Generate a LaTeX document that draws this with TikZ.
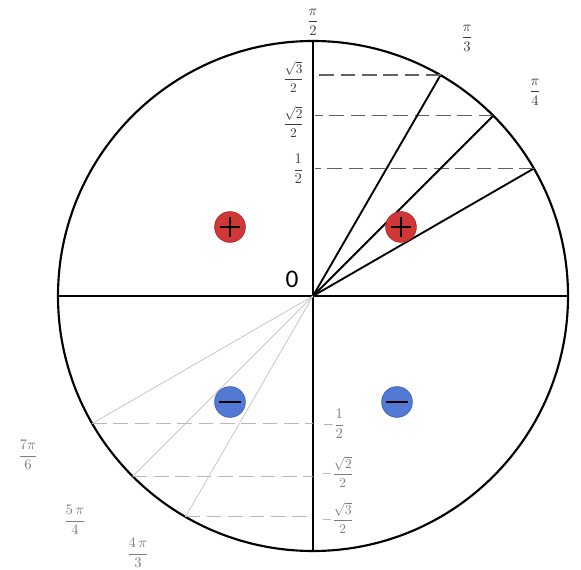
\documentclass[tikz,border=0pt]{standalone}
\usepackage{amsmath,amssymb}
\usepackage{fontspec}
\newfontfamily\zerofont{Carlito}
\usepackage{tikz}
\usetikzlibrary{calc}
\definecolor{signred}{RGB}{208,56,56}
\definecolor{signredline}{RGB}{180,40,40}
\definecolor{signblue}{RGB}{82,122,212}
\definecolor{signblueline}{RGB}{62,98,184}
\definecolor{labeldark}{RGB}{60,60,60}
\definecolor{labellight}{RGB}{125,125,125}

\begin{document}
\begin{tikzpicture}[
      x=0.75pt, y=0.75pt,
      rim/.style={line width=1.6pt, black},
      ray/.style={line width=1.4pt, black},
      faintray/.style={line width=0.6pt, black!22},
      level/.style={line width=1pt, black!62, dash pattern=on 11pt off 5pt},
      faintlevel/.style={line width=0.7pt, black!28, dash pattern=on 11pt off 5pt},
      toplabel/.style={font=\fontsize{11}{13}\selectfont, text=labeldark, inner sep=1pt},
      lowlabel/.style={font=\fontsize{11}{13}\selectfont, text=labellight, inner sep=1pt},
      rootlabel/.style={font=\fontsize{10}{12}\selectfont, inner sep=0.5pt},
      plussign/.style={circle, fill=signred, draw=signredline, line width=0.6pt,
                       minimum size=23pt, inner sep=0pt},
      minussign/.style={circle, fill=signblue, draw=signblueline, line width=0.6pt,
                        minimum size=23pt, inner sep=0pt},
    ]
      \useasboundingbox (-313,-274) rectangle (268,296);
      \def\rad{255}
      % circle and axes
      \coordinate (O) at (0,0);
      \coordinate (E) at (0:\rad);
      \coordinate (N) at (90:\rad);
      \coordinate (W) at (180:\rad);
      \coordinate (S) at (270:\rad);
      \draw[rim] (O) circle (\rad);
      \draw[rim] (W) -- (E);
      \draw[rim] (S) -- (N);
      % first quadrant
      \foreach \ang/\nm in {30/a, 45/b, 60/c} {
        \coordinate (\nm) at (\ang:\rad);
        \draw[ray] (O) -- (\nm);
        \draw[level] (\nm) -- (2,0 |- \nm);
      }
      % third quadrant
      \foreach \ang/\nm in {210/d, 225/e, 240/f} {
        \coordinate (\nm) at (\ang:\rad);
        \draw[faintray] (O) -- (\nm);
        \draw[faintlevel] (\nm) -- (O |- \nm);
      }
      % labels
      \node[toplabel] (lpi2) at (0,274) {$\displaystyle\frac{\pi}{2}$};
      \node[toplabel] (lpi3) at (154,258) {$\displaystyle\frac{\pi}{3}$};
      \node[toplabel] (lpi4) at (222,204) {$\displaystyle\frac{\pi}{4}$};
      \node[toplabel, rootlabel, anchor=east] (lsin3) at (-8,219) {$\displaystyle\frac{\sqrt{3}}{2}$};
      \node[toplabel, rootlabel, anchor=east] (lsin2) at (-8,174) {$\displaystyle\frac{\sqrt{2}}{2}$};
      \node[toplabel, anchor=east] (lsin1) at (-8,127) {$\displaystyle\frac{1}{2}$};
      \node[lowlabel, anchor=west] (lmsin1) at (8,-128) {$-\displaystyle\frac{1}{2}$};
      \node[lowlabel, rootlabel, anchor=west] (lmsin2) at (8,-176) {$-\displaystyle\frac{\sqrt{2}}{2}$};
      \node[lowlabel, rootlabel, anchor=west] (lmsin3) at (8,-222) {$-\displaystyle\frac{\sqrt{3}}{2}$};
      \node[lowlabel] (l7pi6) at (-285,-159) {$\displaystyle\frac{7\pi}{6}$};
      \node[lowlabel] (l5pi4) at (-238,-224) {$\displaystyle\frac{5\,\pi}{4}$};
      \node[lowlabel] (l4pi3) at (-175,-257) {$\displaystyle\frac{4\,\pi}{3}$};
      \node[font=\zerofont\fontsize{19}{20}\selectfont, inner sep=0pt]
            (zero) at (-21,17) {0};
      % signs
      \foreach \px/\py/\nm in {-83/69/pa, 88/69/pb} {
        \node[plussign] (\nm) at (\px,\py) {};
        \draw[line width=1.5pt] ($(\nm)+(-10,0)$) -- ($(\nm)+(10,0)$);
        \draw[line width=1.5pt] ($(\nm)+(0,-10)$) -- ($(\nm)+(0,10)$);
      }
      \foreach \px/\py/\nm in {-83/-106/ma, 84/-106/mb} {
        \node[minussign] (\nm) at (\px,\py) {};
        \draw[line width=2pt] ($(\nm)+(-11,0)$) -- ($(\nm)+(11,0)$);
      }
\end{tikzpicture}
\end{document}
